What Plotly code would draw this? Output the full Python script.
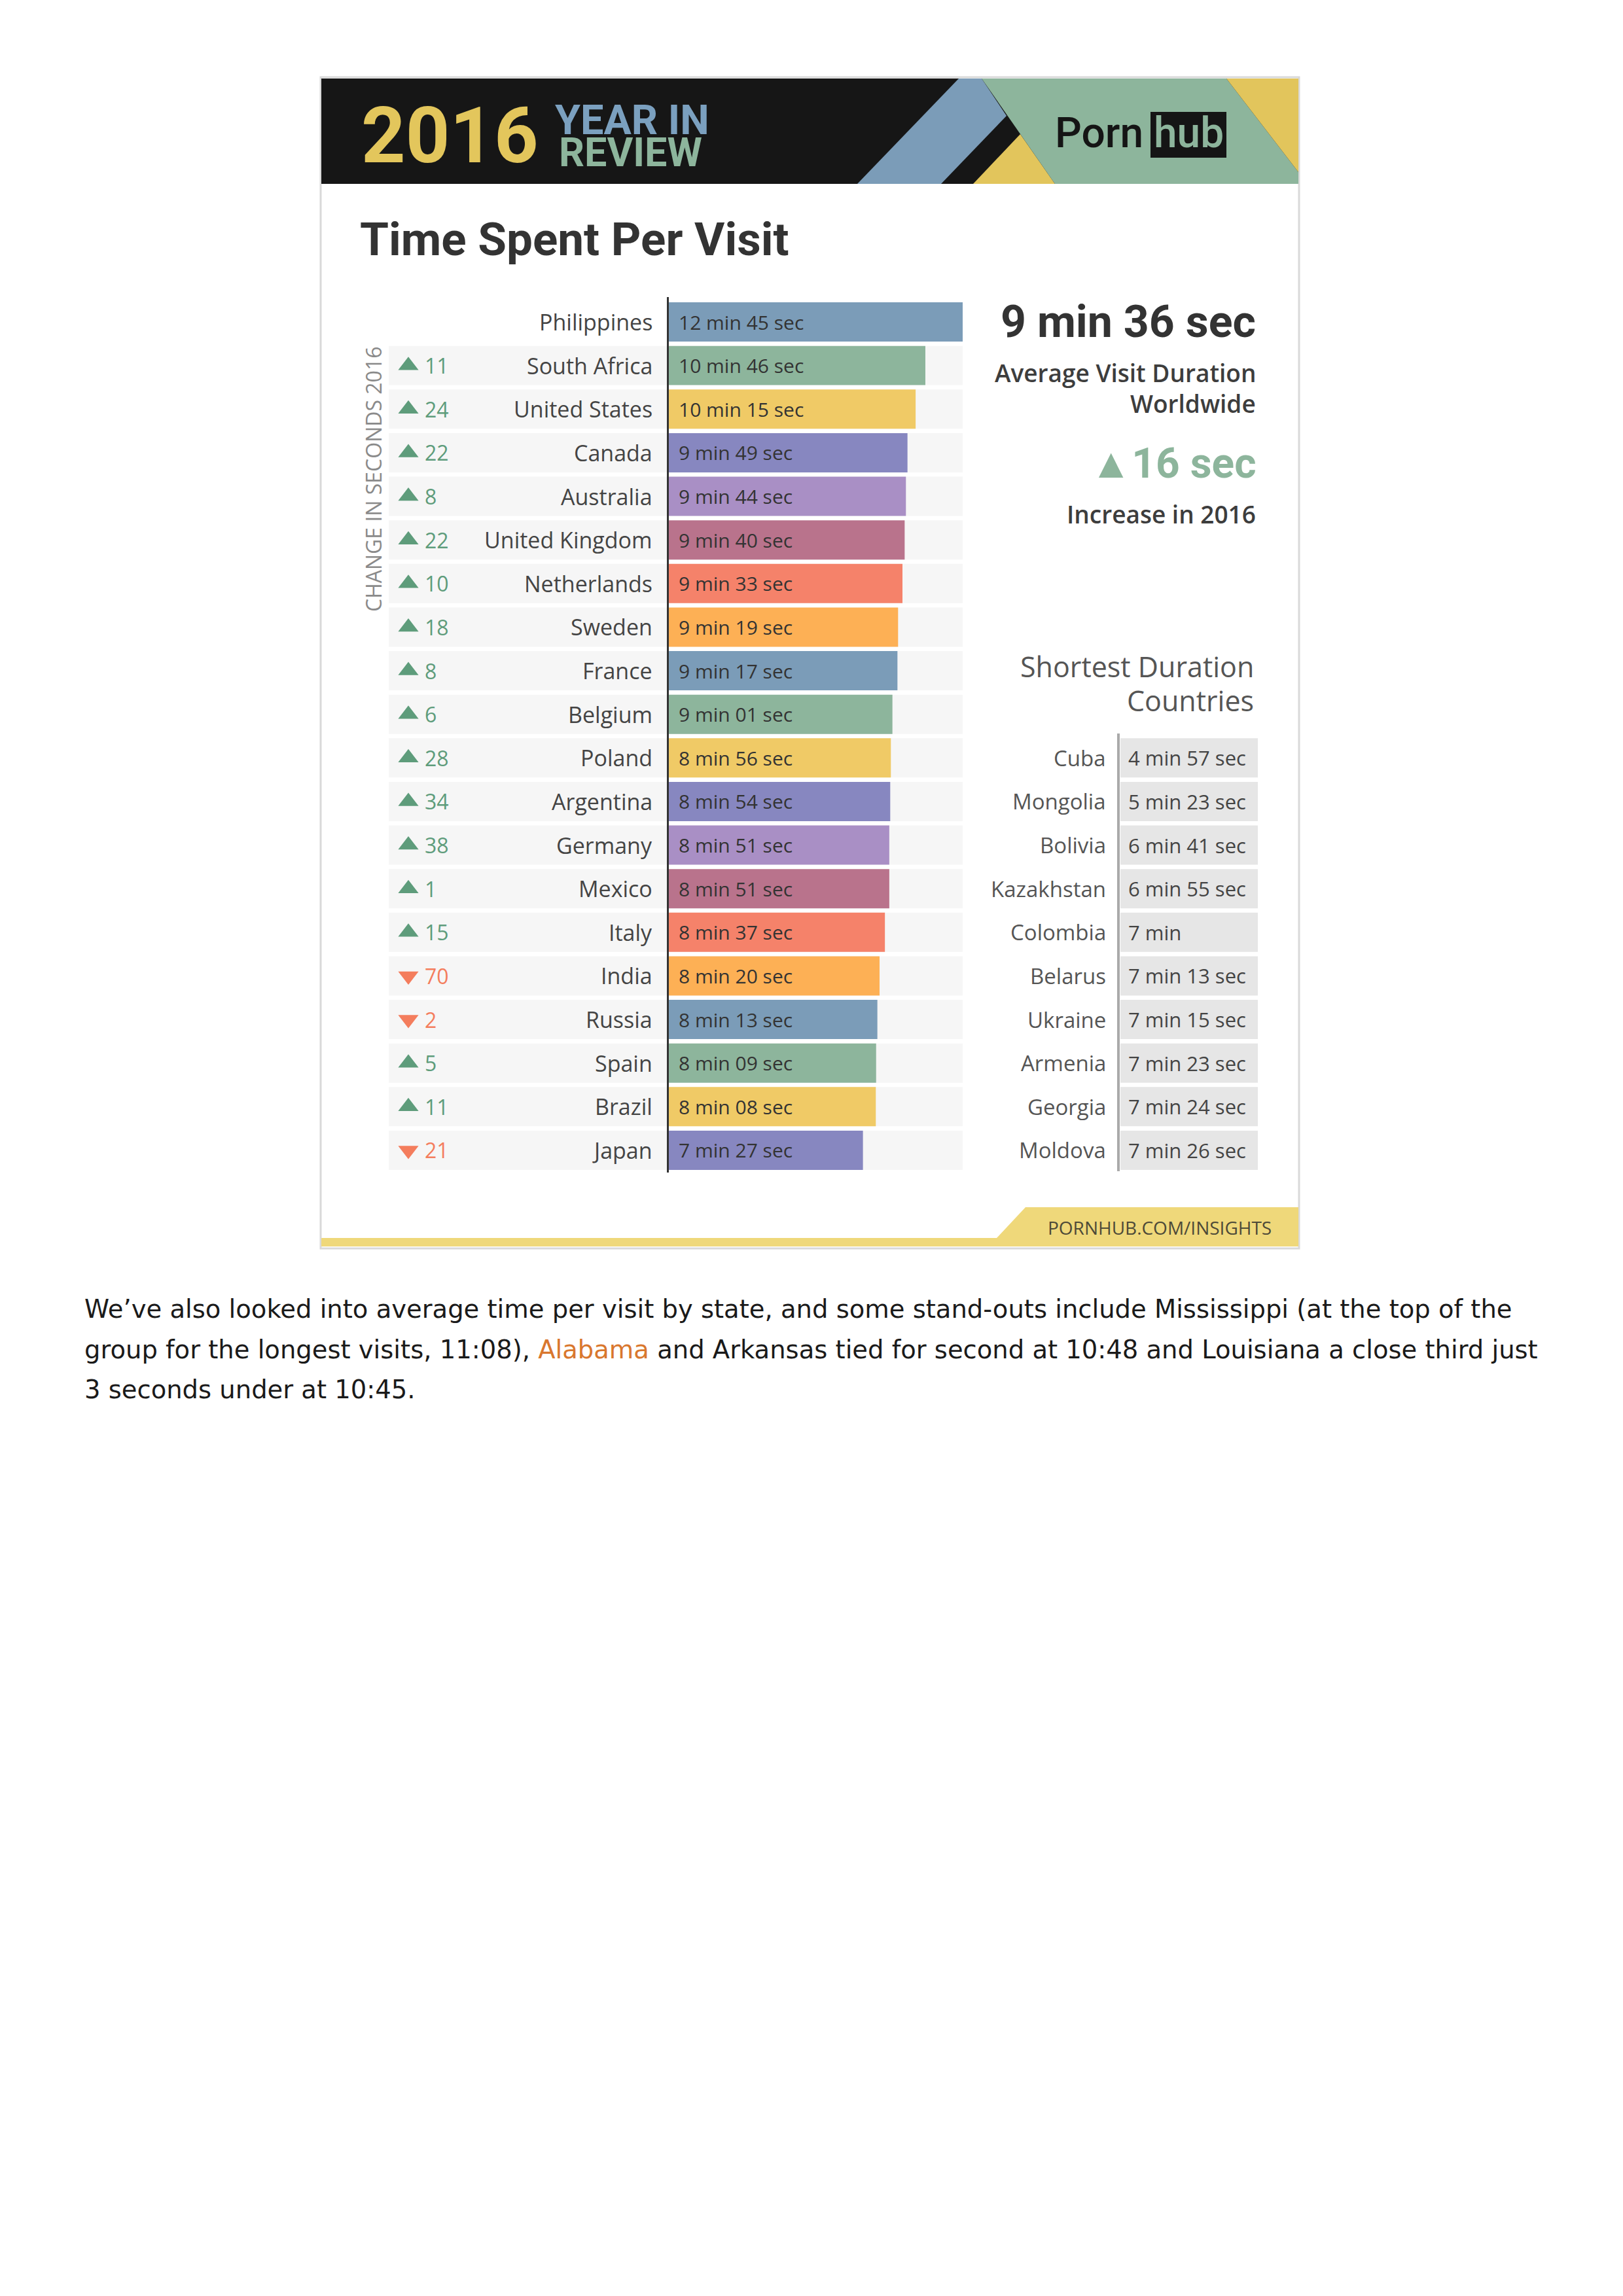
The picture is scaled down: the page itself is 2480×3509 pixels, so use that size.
import plotly.graph_objects as go

# ---------------- data ----------------
countries = ["Philippines", "South Africa", "United States", "Canada", "Australia",
             "United Kingdom", "Netherlands", "Sweden", "France", "Belgium",
             "Poland", "Argentina", "Germany", "Mexico", "Italy",
             "India", "Russia", "Spain", "Brazil", "Japan"]
visit_seconds = [765, 646, 615, 589, 584, 580, 573, 559, 557, 541,
                 536, 534, 531, 531, 517, 500, 493, 489, 488, 447]
change_2016 = [None, 11, 24, 22, 8, 22, 10, 18, 8, 6,
               28, 34, 38, 1, 15, -70, -2, 5, 11, -21]
bar_colors = ["#7b9cb8", "#8db59c", "#f0ca66", "#8787c0", "#a98fc5", "#b9738c", "#f5826a", "#fdb055",
              "#7b9cb8", "#8db59c", "#f0ca66", "#8787c0", "#a98fc5", "#b9738c", "#f5826a", "#fdb055",
              "#7b9cb8", "#8db59c", "#f0ca66", "#8787c0"]

short_countries = ["Cuba", "Mongolia", "Bolivia", "Kazakhstan", "Colombia",
                   "Belarus", "Ukraine", "Armenia", "Georgia", "Moldova"]
short_seconds = [297, 323, 401, 415, 420, 433, 435, 443, 444, 446]

world_avg_seconds = 576
world_change_seconds = 16
AXIS_FLOOR = -172  # value at which the bar axis starts

# ---------------- geometry helpers ----------------
W, H = 2480, 3509
def X(px): return px / W
def Y(py): return 1 - py / H

ROW0, PITCH, N = 492.0, 66.63, len(countries)
TOP = ROW0 - PITCH / 2
BOT = ROW0 + (N - 0.5) * PITCH
SHORT_TOP = ROW0 + (N - len(short_countries) - 0.5) * PITCH

def fmt_main(s):
    return f"{s // 60} min {s % 60:02d} sec"

def fmt_short(s):
    return f"{s // 60} min" if s % 60 == 0 else f"{s // 60} min {s % 60} sec"

SANS = "Open Sans"
BOLD = "Roboto"
TXT = "#444444"

fig = go.Figure()

# main bars
fig.add_trace(go.Bar(
    y=countries, x=[v - AXIS_FLOOR for v in visit_seconds], base=AXIS_FLOOR,
    orientation="h", marker=dict(color=bar_colors, line=dict(width=0)),
    xaxis="x", yaxis="y", hoverinfo="skip", showlegend=False))

# change triangles
up_c = [c for c, d in zip(countries, change_2016) if d is not None and d > 0]
dn_c = [c for c, d in zip(countries, change_2016) if d is not None and d < 0]
GREEN, RED = "#5e9c7b", "#f47d5d"
fig.add_trace(go.Scatter(x=[624] * len(up_c), y=up_c, mode="markers", xaxis="x2", yaxis="y",
                         marker=dict(symbol="triangle-up", size=27, color=GREEN),
                         hoverinfo="skip", showlegend=False))
fig.add_trace(go.Scatter(x=[624] * len(dn_c), y=dn_c, mode="markers", xaxis="x2", yaxis="y",
                         marker=dict(symbol="triangle-down", size=27, color=RED),
                         hoverinfo="skip", showlegend=False))

# shortest table cells
fig.add_trace(go.Bar(
    y=short_countries, x=[1] * len(short_countries), base=0, orientation="h",
    marker=dict(color="#e6e6e6", line=dict(width=0)),
    xaxis="x3", yaxis="y2", hoverinfo="skip", showlegend=False))

shapes = []
ann = []

def A(text, x, y, size, color=TXT, family=SANS, xanchor="left", weight=400, xref="paper",
      yref="paper", **kw):
    ann.append(dict(text=text, x=x, y=y, xref=xref, yref=yref, xanchor=xanchor, yanchor="middle",
                    showarrow=False, font=dict(size=size, color=color, family=family, weight=weight),
                    **kw))

def poly(pts, color):
    path = "M " + " L ".join(f"{X(px):.6f},{Y(py):.6f}" for px, py in pts) + " Z"
    shapes.append(dict(type="path", path=path, xref="paper", yref="paper",
                       fillcolor=color, line=dict(width=0), layer="below"))

def rect(x0, y0, x1, y1, color, line=None):
    shapes.append(dict(type="rect", xref="paper", yref="paper", x0=X(x0), x1=X(x1), y0=Y(y1), y1=Y(y0),
                       fillcolor=color, line=line or dict(width=0), layer="below"))

# ---------------- frame & header ----------------
rect(490, 118, 1985, 1908, "white", line=dict(color="#d9d9d9", width=3))
rect(491, 120, 1984, 281, "#161616")
poly([(1310, 281), (1465, 120), (1500, 120), (1538, 177), (1438, 281)], "#7b9cb8")
poly([(1487, 281), (1559, 205), (1612, 281)], "#e2c55c")
poly([(1500, 120), (1874, 120), (1984, 263), (1984, 281), (1612, 281)], "#8db59c")
poly([(1874, 120), (1984, 120), (1984, 263)], "#e2c55c")
rect(1758, 171, 1874, 241, "#151515")

A("2016", X(550), Y(208), 118, "#e3c65c", BOLD, weight=700)
A("YEAR IN", X(846), Y(184), 63, "#7ba0bf", BOLD, weight=700)
A("REVIEW", X(852), Y(233), 61, "#8db59c", BOLD, weight=700)
A("Porn", X(1610), Y(203), 64, "#151515", BOLD, weight=500)
A("hub", X(1816), Y(203), 64, "#8db59c", BOLD, xanchor="center", weight=500)

# footer
poly([(1567, 1845), (1984, 1845), (1984, 1905), (491, 1905), (491, 1892), (1523, 1892)], "#efd87a")
A("PORNHUB.COM/INSIGHTS", X(1945), Y(1876), 28, "#4d4a38", SANS, xanchor="right", weight=500)

# title
A("Time Spent Per Visit", X(548), Y(366), 71, "#333333", BOLD, weight=700)

# ---------------- main chart decorations ----------------
for i in range(1, N):
    shapes.append(dict(type="rect", xref="paper", yref="y", x0=X(594), x1=X(1471),
                       y0=i - 0.45, y1=i + 0.45, fillcolor="#f6f6f6", line=dict(width=0), layer="below"))
shapes.append(dict(type="line", xref="paper", yref="paper", x0=X(1020.5), x1=X(1020.5),
                   y0=Y(1792), y1=Y(454), line=dict(color="#333333", width=3)))

for c, v, d in zip(countries, visit_seconds, change_2016):
    A(c, 999, c, 34, TXT, SANS, xanchor="right", xref="x2", yref="y")
    A(fmt_main(v), AXIS_FLOOR, c, 30, "#333333", SANS, xref="x", yref="y", xshift=13)
    if d is not None:
        A(str(abs(d)), 647, c, 32, GREEN if d > 0 else RED, SANS, xref="x2", yref="y")

A("CHANGE IN SECONDS 2016", X(570), Y(732), 32, "#8a8a8a", SANS, xanchor="center", textangle=-90)

# ---------------- right panel ----------------
m, s = divmod(world_avg_seconds, 60)
A(f"{m} min {s} sec", X(1921), Y(492), 68, "#333333", BOLD, xanchor="right", weight=700)
A("Average Visit Duration", X(1921), Y(569), 37, "#3d3d3d", SANS, xanchor="right", weight=600)
A("Worldwide", X(1921), Y(616), 37, "#3d3d3d", SANS, xanchor="right", weight=600)
A(f"▲{world_change_seconds} sec", X(1921), Y(708), 64, "#8db59c", BOLD, xanchor="right", weight=700)
A("Increase in 2016", X(1921), Y(785), 37, "#3d3d3d", SANS, xanchor="right", weight=600)
A("Shortest Duration", X(1918), Y(1018), 43, "#555555", SANS, xanchor="right")
A("Countries", X(1918), Y(1070), 43, "#555555", SANS, xanchor="right")

shapes.append(dict(type="line", xref="paper", yref="paper", x0=X(1709), x1=X(1709),
                   y0=Y(1790), y1=Y(1121), line=dict(color="#aaaaaa", width=4)))
for c, v in zip(short_countries, short_seconds):
    A(c, 0, c, 33, "#555555", SANS, xanchor="right", xref="x3", yref="y2", xshift=-20)
    A(fmt_short(v), 0, c, 31, "#444444", SANS, xref="x3", yref="y2", xshift=10)

# ---------------- paragraph ----------------
PFONT = "DejaVu Sans"
PSIZE = 38.5
A("We’ve also looked into average time per visit by state, and some stand-outs include Mississippi (at the top of the",
  X(127), Y(2000), PSIZE, "#1a1a1a", PFONT)
A("group for the longest visits, 11:08), <span style='color:#d9772e'>Alabama</span> and Arkansas tied for second at 10:48 and Louisiana a close third just",
  X(127), Y(2062), PSIZE, "#1a1a1a", PFONT)
A("3 seconds under at 10:45.", X(127), Y(2123), PSIZE, "#1a1a1a", PFONT)

fig.update_layout(
    width=W, height=H, margin=dict(l=0, r=0, t=0, b=0),
    paper_bgcolor="white", plot_bgcolor="rgba(0,0,0,0)",
    bargap=0.1, showlegend=False,
    xaxis=dict(domain=[X(1022), X(1471)], range=[AXIS_FLOOR, 765], visible=False, anchor="y", fixedrange=True),
    xaxis2=dict(domain=[0, 1], range=[0, W], visible=False, anchor="y", fixedrange=True),
    xaxis3=dict(domain=[X(1712), X(1922)], range=[0, 1], visible=False, anchor="y2", fixedrange=True),
    yaxis=dict(domain=[Y(BOT), Y(TOP)], type="category", categoryorder="array", categoryarray=countries,
               range=[N - 0.5, -0.5], visible=False, anchor="x", fixedrange=True),
    yaxis2=dict(domain=[Y(BOT), Y(SHORT_TOP)], type="category", categoryorder="array",
                categoryarray=short_countries, range=[len(short_countries) - 0.5, -0.5],
                visible=False, anchor="x3", fixedrange=True),
    shapes=shapes, annotations=ann,
)

fig.write_html("out.html")
